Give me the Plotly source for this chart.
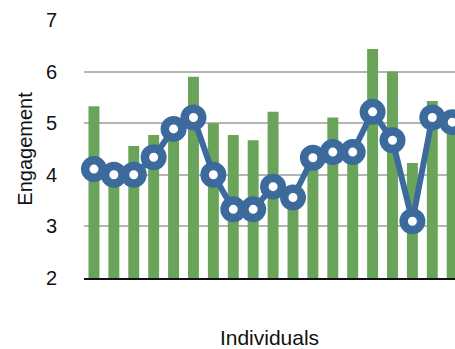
import plotly.graph_objects as go

individuals = list(range(1, 20))
bar_values = [5.33, 3.9, 4.56, 4.77, 4.7, 5.9, 5.0, 4.77, 4.67, 5.22,
              3.5, 4.2, 5.11, 4.4, 6.44, 6.0, 4.23, 5.43, 5.0]
line_values = [4.11, 4.0, 4.0, 4.34, 4.89, 5.11, 4.0, 3.33, 3.33, 3.77,
               3.56, 4.33, 4.44, 4.44, 5.22, 4.67, 3.1, 5.11, 5.02]
y_ticks = [2, 3, 4, 5, 6, 7]

GREEN = "#6aa45a"
BLUE = "#3c6a9d"
FONT = "Liberation Sans, Arial, sans-serif"

fig = go.Figure()
fig.add_trace(go.Bar(
    x=list(range(len(individuals))), y=[v - 2 for v in bar_values], base=2,
    marker=dict(color=GREEN, line=dict(width=0)), width=0.55,
    hoverinfo="skip", showlegend=False,
))
fig.add_trace(go.Scatter(
    x=list(range(len(individuals))), y=line_values, mode="lines+markers",
    line=dict(color=BLUE, width=6),
    marker=dict(size=17.5, color="white", line=dict(color=BLUE, width=8.5)),
    cliponaxis=False, showlegend=False,
))

fig.update_layout(
    width=455, height=349,
    margin=dict(l=84, r=0, t=20, b=71),
    paper_bgcolor="white", plot_bgcolor="white",
    font=dict(family=FONT, color="#111111"),
    bargap=0.45,
    xaxis=dict(
        range=[-0.5, 18.14], showticklabels=False, ticks="",
        showgrid=False, zeroline=False,
        showline=True, linecolor="#111111", linewidth=1.5,
        title=dict(text="Individuals", font=dict(size=21, family=FONT), standoff=54),
        automargin=False,
    ),
    yaxis=dict(
        range=[2, 7], tickvals=y_ticks, ticktext=[str(t) for t in y_ticks],
        tickfont=dict(size=20, family=FONT),
        ticks="outside", ticklen=22, tickcolor="rgba(0,0,0,0)",
        showgrid=True, gridcolor="#b5b5b5", gridwidth=2,
        zeroline=False, showline=False,
        title=dict(text="Engagement", font=dict(size=20, family=FONT), standoff=7),
        automargin=False,
    ),
)

fig.write_html("out.html")
